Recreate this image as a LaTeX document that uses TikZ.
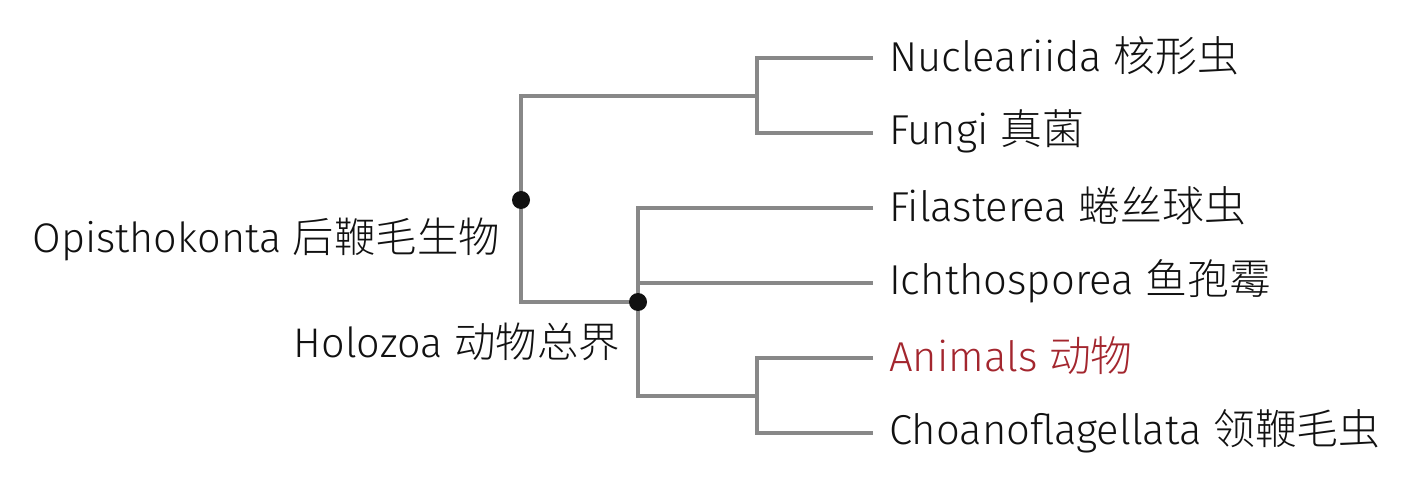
\documentclass[tikz,border=0pt]{standalone}
\usepackage{fontspec}
\setmainfont{Fira Sans}[UprightFont=* Light]
\newfontfamily\cjk{Noto Sans CJK SC}[UprightFont=* Light]
\definecolor{branch}{HTML}{888888}
\definecolor{ink}{HTML}{111111}
\definecolor{animal}{HTML}{A3262E}
\begin{document}
\begin{tikzpicture}[x=1pt,y=-1pt,
  branchline/.style={draw=branch,line width=4pt},
  leaf/.style={anchor=west,inner sep=0pt,text=ink,font=\fontsize{41.8}{48}\selectfont},
  clade/.style={anchor=east,inner sep=0pt,text=ink,font=\fontsize{41.4}{48}\selectfont},
  joint/.style={circle,fill=ink,inner sep=0pt,minimum size=18pt}]
\useasboundingbox (0,0) rectangle (1413,494);
% coordinates
\coordinate (r) at (521,200);
\coordinate (rt) at (521,96);
\coordinate (rb) at (521,302);
\coordinate (h) at (638,302);
\coordinate (ht) at (638,208);
\coordinate (hm) at (638,283);
\coordinate (hb) at (638,396);
\coordinate (a) at (757,96);
\coordinate (at) at (757,58);
\coordinate (ab) at (757,133);
\coordinate (c) at (757,396);
\coordinate (ct) at (757,358);
\coordinate (cb) at (757,433);
\coordinate (e1) at (873,58);
\coordinate (e2) at (873,133);
\coordinate (e3) at (873,208);
\coordinate (e4) at (873,283);
\coordinate (e5) at (873,358);
\coordinate (e6) at (873,433);
% branches
\draw[branchline] (e1) -- (at) -- (ab) -- (e2);
\draw[branchline] (a) -- (rt) -- (rb) -- (h);
\draw[branchline] (e3) -- (ht) -- (hb) -- (c);
\draw[branchline] (hm) -- (e4);
\draw[branchline] (e5) -- (ct) -- (cb) -- (e6);
% joints
\node[joint] (jr) at (r) {};
\node[joint] (jh) at (h) {};
% labels
\node[leaf] (l1) at (889,56) {Nucleariida {\cjk 核形虫}};
\node[leaf] (l2) at (889,131) {Fungi {\cjk 真菌}};
\node[leaf] (l3) at (889,206) {Filasterea {\cjk 蜷丝球虫}};
\node[leaf] (l4) at (889,281) {Ichthosporea {\cjk 鱼孢霉}};
\node[leaf,text=animal] (l5) at (889,356) {Animals {\cjk 动物}};
\node[leaf] (l6) at (889,431) {Choanoflagellata {\cjk 领鞭毛虫}};
\node[clade] (o) at (500,239) {Opisthokonta {\cjk 后鞭毛生物}};
\node[clade] (hz) at (620,342) {Holozoa {\cjk 动物总界}};
\end{tikzpicture}
\end{document}
